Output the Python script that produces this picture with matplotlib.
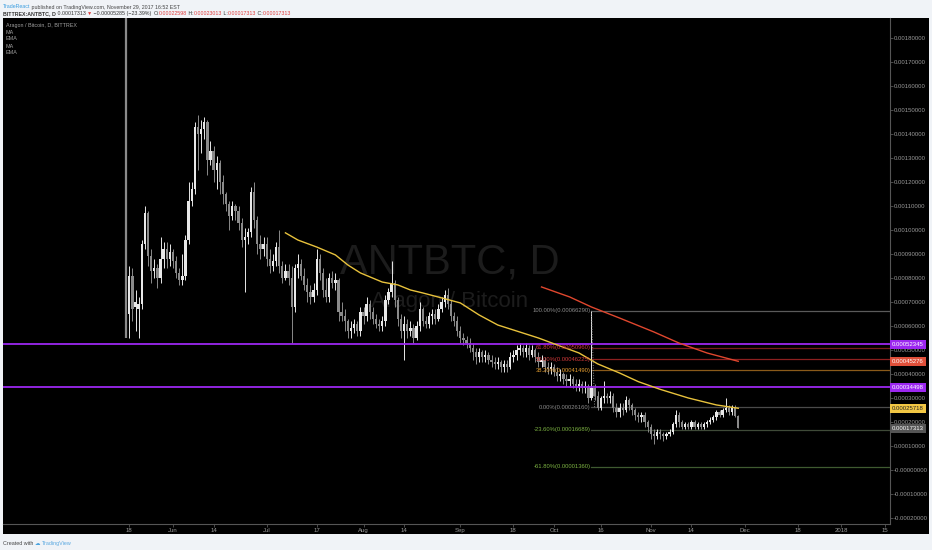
import datetime as dt
import numpy as np
import matplotlib
matplotlib.use("Agg")
import matplotlib.pyplot as plt
import matplotlib.dates as mdates

plt.rcParams['font.family'] = ['Liberation Sans', 'DejaVu Sans']

# ---------------- data (prices in 1e-5 BTC) ----------------
start_date = dt.date(2017, 5, 17)
opens = [62, 65, 81, 68, 67, 69, 94, 107, 89, 83, 84, 80, 88, 92, 88, 91, 87, 82, 79, 81,
         96, 112, 117, 143, 140, 142, 145, 129, 133, 125, 128, 120, 115, 111, 106, 110, 108, 103, 96, 97,
         99, 116, 104, 94, 92, 94, 88, 85, 87, 93, 85, 80, 83, 80, 68, 84, 86, 81, 77, 74,
         72, 75, 88, 82, 75, 72, 80, 78, 79, 66, 64, 62, 58, 59, 61, 58, 66, 64, 69, 66,
         63, 61, 60, 62, 71, 74, 78, 71, 63, 58, 61, 58, 59, 55, 60, 67, 62, 61, 64, 65,
         63, 67, 70, 73, 69, 64, 62, 58, 55, 54, 53, 51, 49, 47, 49, 47, 48, 46, 45, 44,
         45, 43, 44, 43, 47, 48, 50, 51, 49, 51, 48, 50, 47, 45, 46, 43, 42, 43, 41, 39,
         40, 38, 37, 38, 36, 35, 36, 34, 35, 30, 34, 31, 26, 30, 31, 30, 31, 26, 24, 26,
         25, 29, 27, 25, 23, 22, 23, 20, 18, 15, 14, 16, 15, 14, 15, 16, 19, 23, 20, 18,
         19, 18, 20, 18, 19, 18, 19, 20, 21, 22, 24, 23, 25, 26, 24, 26, 22.598]
highs = [250, 85, 84, 75, 72, 96, 110, 108, 92, 88, 86, 97, 95, 95, 94, 92, 89, 84, 90, 98,
         120, 120, 145, 148, 146, 147, 146, 137, 135, 131, 129, 123, 116, 112, 112, 111, 110, 105, 101, 101,
         118, 120, 106, 98, 97, 97, 92, 90, 95, 100, 87, 86, 86, 85, 86, 90, 88, 84, 80, 77,
         78, 92, 90, 84, 80, 82, 83, 82, 80, 70, 67, 63, 62, 63, 62, 68, 68, 72, 71, 68,
         65, 63, 64, 73, 76, 87, 79, 72, 65, 64, 63, 62, 61, 62, 70, 68, 64, 66, 67, 67,
         69, 72, 75, 76, 71, 66, 64, 60, 57, 56, 55, 53, 51, 51, 50, 50, 49, 48, 47, 47,
         46, 46, 46, 49, 50, 52, 53, 52, 53, 52, 52, 51, 49, 48, 47, 45, 45, 44, 43, 42,
         41, 40, 40, 39, 38, 38, 37, 37, 36, 66.29, 36, 33, 31, 37, 32, 33, 32, 28, 28, 28,
         31, 30, 28, 26, 24, 24, 24, 21, 19, 17, 17, 17, 16, 16, 17, 20, 25, 24, 21, 20,
         20, 21, 21, 20, 20, 20, 21, 22, 23, 25, 25, 26, 30, 27, 27, 27, 23.013]
lows = [55, 55, 62, 58, 55, 67, 92, 85, 78, 80, 76, 78, 84, 84, 85, 84, 80, 77, 77, 79,
        94, 110, 115, 125, 132, 138, 123, 127, 120, 117, 115, 111, 108, 100, 104, 104, 100, 93, 74, 94,
        97, 101, 90, 88, 89, 85, 82, 83, 85, 82, 78, 79, 77, 53, 66, 80, 79, 75, 70, 69,
        70, 73, 79, 72, 70, 70, 76, 75, 62, 62, 58, 55, 55, 57, 56, 56, 61, 62, 63, 61,
        59, 58, 58, 60, 69, 72, 68, 60, 55, 46, 55, 56, 53, 54, 58, 60, 59, 59, 61, 61,
        62, 66, 68, 67, 62, 60, 56, 53, 52, 51, 49, 46, 44, 45, 45, 45, 44, 43, 42, 42,
        41, 41, 41, 42, 45, 46, 48, 47, 47, 46, 47, 45, 43, 43, 41, 40, 40, 39, 37, 37,
        36, 35, 35, 34, 33, 33, 32, 32, 28, 29, 29, 25, 25, 28, 28, 28, 24, 22, 22, 23,
        24, 25, 23, 21, 20, 20, 18, 16, 13, 11, 13, 13, 12, 13, 14, 15, 18, 18, 17, 17,
        17, 17, 17, 17, 17, 17, 18, 19, 20, 21, 22, 22, 24, 23, 23, 22, 17.313]
closes = [60, 81, 67, 70, 69, 94, 107, 89, 83, 84, 80, 88, 92, 88, 91, 87, 82, 79, 81, 96,
          112, 117, 143, 140, 142, 145, 129, 133, 125, 128, 120, 115, 111, 106, 110, 108, 103, 96, 97, 99,
          116, 104, 94, 92, 94, 88, 85, 87, 93, 85, 80, 83, 80, 68, 84, 86, 81, 77, 74, 72,
          75, 88, 82, 75, 72, 80, 78, 79, 66, 64, 62, 58, 59, 61, 58, 66, 64, 69, 66, 63,
          61, 60, 62, 71, 74, 78, 71, 63, 58, 61, 58, 59, 55, 60, 67, 62, 61, 64, 65, 63,
          67, 70, 73, 69, 64, 62, 58, 55, 54, 53, 51, 49, 47, 49, 47, 48, 46, 45, 44, 45,
          43, 44, 43, 47, 48, 50, 51, 49, 51, 48, 50, 47, 45, 46, 43, 42, 43, 41, 39, 40,
          38, 37, 38, 36, 35, 36, 34, 35, 30, 34, 31, 26, 30, 31, 30, 31, 26, 24, 26, 25,
          29, 27, 25, 23, 22, 23, 20, 18, 15, 14, 16, 15, 14, 15, 16, 19, 23, 20, 18, 19,
          18, 20, 18, 19, 18, 19, 20, 21, 22, 24, 23, 25, 26, 24, 26, 22.598, 17.313]

# moving averages
ma_yellow_dates = ["2017-07-07", "2017-07-11", "2017-07-17", "2017-07-23", "2017-07-27", "2017-07-31",
                   "2017-08-07", "2017-08-12", "2017-08-16", "2017-08-20", "2017-08-26", "2017-09-01",
                   "2017-09-07", "2017-09-13", "2017-09-20", "2017-09-26", "2017-10-02", "2017-10-09",
                   "2017-10-15", "2017-10-22", "2017-10-28", "2017-11-04", "2017-11-13", "2017-11-22",
                   "2017-11-29"]
ma_yellow_vals = [98.8, 95.8, 92.9, 89.6, 85.4, 82.1, 78.3, 77.1, 75.0, 73.75, 71.7, 69.6,
                  64.6, 60.4, 57.5, 55.0, 52.1, 48.75, 44.2, 40.4, 36.8, 33.6, 30.0, 27.1, 25.718]
ma_red_dates = ["2017-09-27", "2017-10-06", "2017-10-13", "2017-10-22", "2017-11-02",
                "2017-11-10", "2017-11-19", "2017-11-29"]
ma_red_vals = [76.25, 72.1, 67.9, 63.3, 57.5, 52.9, 48.75, 45.276]

# fibonacci retracement
fib_start = "2017-10-13"
fib_end = "2017-10-14"
fib_high = 66.29
fib_low = 26.16
fib_levels = [1.0, 0.618, 0.5, 0.382, 0.0, -0.236, -0.618]
fib_label_colors = ['#8a8a8a', '#d23a3a', '#d23a3a', '#e8a030', '#8a8a8a', '#7cb342', '#7cb342']
fib_line_colors = ['#5a5a5a', '#7a1c1c', '#8e2020', '#8a5a1a', '#4a4a4a', '#3f4a38', '#3f5a30']

# horizontal levels
purple_levels = [52.345, 34.498]

# price labels on the right axis
price_tags = [52.345, 45.276, 34.498, 25.718, 17.313]
price_tag_texts = ["0.00052345", "0.00045276", "0.00034498", "0.00025718", "0.00017313"]
price_tag_colors = ['#9c27f0', '#e0503a', '#9c27f0', '#f2c744', '#555555']
price_tag_text_colors = ['white', 'white', 'white', '#222222', 'white']

ytick_vals = [180, 170, 160, 150, 140, 130, 120, 110, 100, 90, 80, 70, 60, 50, 40, 30, 20, 10, 0, -10, -20]
ytick_labels = ["0.00180000", "0.00170000", "0.00160000", "0.00150000", "0.00140000", "0.00130000",
                "0.00120000", "0.00110000", "0.00100000", "0.00090000", "0.00080000", "0.00070000",
                "0.00060000", "0.00050000", "0.00040000", "0.00030000", "0.00020000", "0.00010000",
                "-0.00000000", "-0.00010000", "-0.00020000"]
xtick_dates = ["2017-05-18", "2017-06-01", "2017-06-14", "2017-07-01", "2017-07-17", "2017-08-01",
               "2017-08-14", "2017-09-01", "2017-09-18", "2017-10-01", "2017-10-16", "2017-11-01",
               "2017-11-14", "2017-12-01", "2017-12-18", "2018-01-01", "2018-01-15"]
xtick_labels = ["18", "Jun", "14", "Jul", "17", "Aug", "14", "Sep", "18", "Oct", "16", "Nov",
                "14", "Dec", "18", "2018", "15"]

# ---------------- figure ----------------
S = 1e-5
W, H = 932, 550
def fx(px): return px / W
def fy(py): return 1 - py / H

fig = plt.figure(figsize=(9.32, 5.5), dpi=100)
fig.patch.set_facecolor('#f0f3f7')
fig.add_artist(plt.Rectangle((fx(3), fy(534)), fx(929) - fx(3), fy(18) - fy(534),
                             transform=fig.transFigure, facecolor='black', edgecolor='none', zorder=0))
ax = fig.add_axes([fx(3), fy(524), fx(890) - fx(3), fy(18) - fy(524)])
ax.set_facecolor('black')

def d2n(s):
    return mdates.date2num(dt.datetime.strptime(s, "%Y-%m-%d"))

jun1 = d2n("2017-06-01")
ax.set_xlim(jun1 - 170 / 3.123, jun1 + 717 / 3.123)
ax.set_ylim(-22.5 * S, 188.3 * S)

# watermark
ax.text(0.5035, 0.496, "ANTBTC, D", transform=ax.transAxes, fontsize=30, color='#1c1c1c',
        ha='center', va='baseline', zorder=1)
ax.text(0.5035, 0.428, "Aragon / Bitcoin", transform=ax.transAxes, fontsize=16, color='#1c1c1c',
        ha='center', va='baseline', zorder=1)

# candles
o = np.array(opens) * S
h = np.array(highs) * S
l = np.array(lows) * S
c = np.array(closes) * S
xs = mdates.date2num([start_date + dt.timedelta(days=i) for i in range(len(closes))])
cols = np.where(c >= o, '#e8e8e8', '#8a8a8a')
wick_w = np.full(len(xs), 0.7)
wick_w[0] = 1.6
ax.vlines(xs, l, h, colors=cols, linewidths=wick_w, zorder=3)
body = np.maximum(np.abs(c - o), 0.5 * S)
ax.bar(xs, body, bottom=np.minimum(o, c), width=0.74, color=cols, linewidth=0, zorder=3)

# moving averages
ax.plot([d2n(d) for d in ma_yellow_dates], np.array(ma_yellow_vals) * S, color='#e8c23c', lw=1.0, zorder=5)
ax.plot([d2n(d) for d in ma_red_dates], np.array(ma_red_vals) * S, color='#e0472e', lw=1.0, zorder=5)

# purple lines
for v in purple_levels:
    ax.axhline(v * S, color='#9c27f0', lw=1.3, zorder=4)

# fib
fx0 = d2n(fib_start)
xmax = ax.get_xlim()[1]
for lev, lc, tc in zip(fib_levels, fib_line_colors, fib_label_colors):
    price = fib_low + (fib_high - fib_low) * lev
    ax.plot([fx0, xmax], [price * S, price * S], color=lc, lw=0.9, zorder=2)
    ax.text(fx0 - 0.3, price * S, f"{lev*100:.2f}%({price*S:.8f})", color=tc, fontsize=4.2,
            ha='right', va='center', zorder=6)
ax.plot([fx0, d2n(fib_end)], [fib_high * S, fib_low * S], color='#8a8a8a', lw=0.7, ls=':', zorder=6)

# axes style
for sp in ['top', 'left']:
    ax.spines[sp].set_visible(False)
ax.spines['right'].set_color('#555555')
ax.spines['bottom'].set_color('#555555')
ax.yaxis.tick_right()
ax.set_yticks(np.array(ytick_vals) * S)
ax.set_yticklabels(ytick_labels)
ax.set_xticks([d2n(d) for d in xtick_dates])
ax.set_xticklabels(xtick_labels)
ax.tick_params(axis='both', colors='#555555', labelcolor='#9a9a9a', labelsize=4.3, length=2, width=0.6, pad=1)

# price tags
for v, t, bc, tc in zip(price_tags, price_tag_texts, price_tag_colors, price_tag_text_colors):
    ax.text(1.0025, v * S, t, transform=ax.get_yaxis_transform(), fontsize=4.3, color=tc,
            ha='left', va='center', clip_on=False, zorder=10,
            bbox=dict(boxstyle='square,pad=0.35', fc=bc, ec='none'))

# legend top-left
leg = ["Aragon / Bitcoin, D, BITTREX", "MA", "EMA", "MA", "EMA"]
for i, t in enumerate(leg):
    fig.text(fx(6), fy(25 + 7 * i), t, fontsize=3.9, color='#a0a0a0', va='center', ha='left')

# header lines (chained segments)
def chain(segments, x0, y0, fs):
    first = True
    prev = None
    for txt, col, wt in segments:
        if first:
            prev = fig.text(fx(x0), fy(y0), txt, fontsize=fs, color=col, fontweight=wt,
                            ha='left', va='bottom')
            first = False
        else:
            prev = ax.annotate(txt, xy=(1, 0), xycoords=prev, fontsize=fs, color=col,
                               fontweight=wt, ha='left', va='bottom', annotation_clip=False)

chain([("TradeReact", '#3c9ee0', 'normal'),
       (" published on TradingView.com, November 29, 2017 16:52 EST", '#444444', 'normal')], 3, 9.5, 3.8)
red = '#e03c3c'
dark = '#333333'
chain([("BITTREX:ANTBTC, D", dark, 'bold'), (" 0.00017313 ", dark, 'normal'), ("\u25bc", red, 'normal'),
       (" \u22120.00005285 (\u221223.39%) ", dark, 'normal'), ("O:", dark, 'normal'), ("0.00022598", red, 'normal'),
       (" H:", dark, 'normal'), ("0.00023013", red, 'normal'), (" L:", dark, 'normal'),
       ("0.00017313", red, 'normal'), (" C:", dark, 'normal'), ("0.00017313", red, 'normal')], 3, 16, 3.8)
chain([("Created with ", '#444444', 'normal'), ("\u2601 ", '#4aa3df', 'normal'),
       ("TradingView", '#5aa8e0', 'normal')], 3, 546, 3.9)

fig.savefig("out.png", dpi=100, facecolor=fig.get_facecolor())
